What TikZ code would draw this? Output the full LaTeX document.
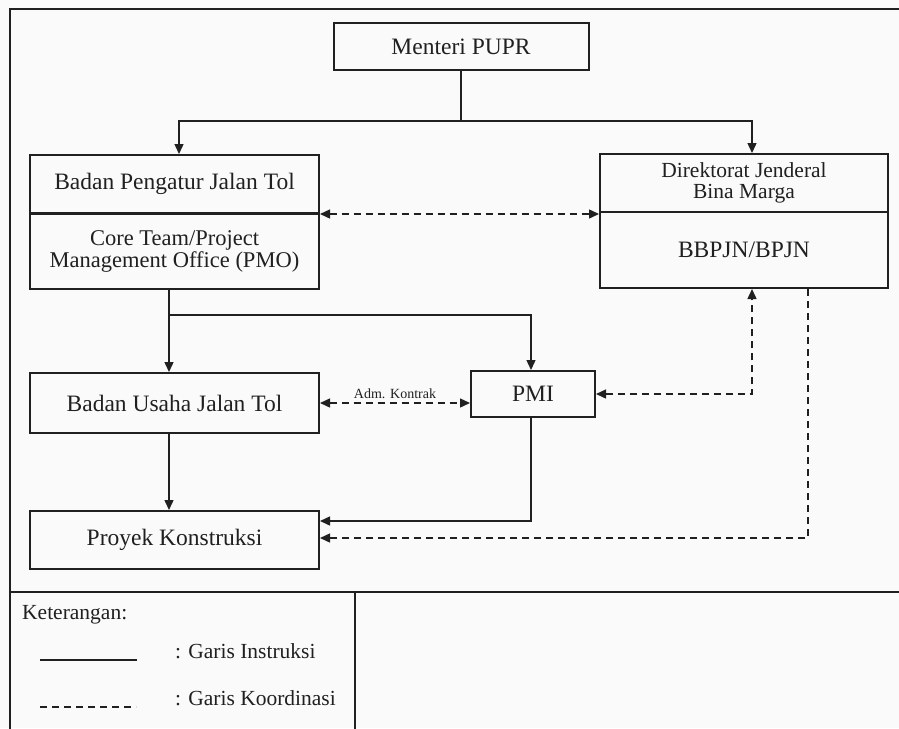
\documentclass[tikz,border=0pt]{standalone}
\usepackage{fontspec}
\setmainfont{Liberation Serif}
\usetikzlibrary{arrows.meta}
\definecolor{ink}{HTML}{202020}
\tikzset{
  box/.style={draw=ink, line width=2pt, align=center, inner sep=0pt, text=ink,
    font=\fontsize{23.5}{26}\selectfont},
  conn/.style={draw=ink, line width=1.4pt},
  arr/.style={conn, -{Triangle[length=10pt,width=9pt]}},
  darr/.style={conn, dash pattern=on 7pt off 5pt, -{Triangle[length=10pt,width=9pt]}},
  ddarr/.style={conn, dash pattern=on 7pt off 5pt, {Triangle[length=10pt,width=9pt]}-{Triangle[length=10pt,width=9pt]}},
  lbl/.style={text=ink, inner sep=0pt, anchor=west, font=\fontsize{21.5}{24}\selectfont},
}
\begin{document}
\begin{tikzpicture}[x=1pt,y=-1pt]
\useasboundingbox[fill=white!98!black] (0,0) rectangle (899,728);
% frame
\draw[ink, line width=1.8pt] (10,729) -- (10,9) -- (900,9);
\draw[ink, line width=1.8pt] (10,592) -- (900,592);
\draw[ink, line width=1.8pt] (355,592) -- (355,729);
% nodes
\node[box, minimum width=255pt, minimum height=47pt] (menteri) at (461,46.5) {Menteri PUPR};
\node[box, minimum width=289pt, minimum height=58pt] (bpjt) at (174.5,184) {Badan Pengatur Jalan Tol};
\node[box, minimum width=289pt, minimum height=75pt, font=\fontsize{22.5}{22}\selectfont] (pmo) at (174.5,251) {Core Team/Project\\Management Office (PMO)};
\node[box, minimum width=288pt, minimum height=58pt, font=\fontsize{21.5}{21.5}\selectfont] (djbm) at (744,183) {Direktorat Jenderal\\Bina Marga};
\node[box, minimum width=288pt, minimum height=76pt] (bbpjn) at (744,250) {BBPJN/BPJN};
\node[box, minimum width=289pt, minimum height=60pt] (bujt) at (174.5,403) {Badan Usaha Jalan Tol};
\node[box, minimum width=124pt, minimum height=46pt] (pmi) at (533,394) {PMI};
\node[box, minimum width=289pt, minimum height=58pt] (proyek) at (174.5,540) {Proyek Konstruksi};
% connectors
\coordinate (s1) at (461,121);
\draw[conn] (menteri.south) -- (s1);
\draw[arr] (s1) -| ([xshift=4.5pt]bpjt.north);
\draw[arr] (s1) -| ([xshift=8pt]djbm.north);
\draw[ddarr] (bpjt.south east) -- (bpjt.south east -| djbm.west);
\coordinate (s2) at (169,315);
\draw[conn] ([xshift=-5.5pt]pmo.south) -- (s2);
\draw[arr] (s2) -- ([xshift=-5.5pt]bujt.north);
\draw[arr] (s2) -| ([xshift=-2pt]pmi.north);
\draw[ddarr] (bujt.east) -- node[above=4pt, inner sep=0pt, text=ink, font=\fontsize{14}{16}\selectfont] (adm) {Adm. Kontrak} (bujt.east -| pmi.west);
\draw[ddarr] (pmi.east) -| ([xshift=8pt]bbpjn.south);
\draw[arr] ([xshift=-5.5pt]bujt.south) -- ([xshift=-5.5pt]proyek.north);
\draw[arr] ([xshift=-2pt]pmi.south) |- ([yshift=19pt]proyek.east);
\draw[darr] ([xshift=64pt]bbpjn.south) |- ([yshift=2pt]proyek.east);
% legend
\node[lbl] (ket) at (22,615) {Keterangan:};
\coordinate (l1a) at (40,660); \coordinate (l1b) at (137,660);
\coordinate (l2a) at (40,707); \coordinate (l2b) at (136,707);
\draw[conn, line width=1.8pt] (l1a) -- (l1b);
\draw[conn, line width=1.8pt, dash pattern=on 7pt off 5pt] (l2a) -- (l2b);
\node[lbl] (gi) at (175,651) {: Garis Instruksi};
\node[lbl] (gk) at (175,698) {: Garis Koordinasi};
\end{tikzpicture}
\end{document}
